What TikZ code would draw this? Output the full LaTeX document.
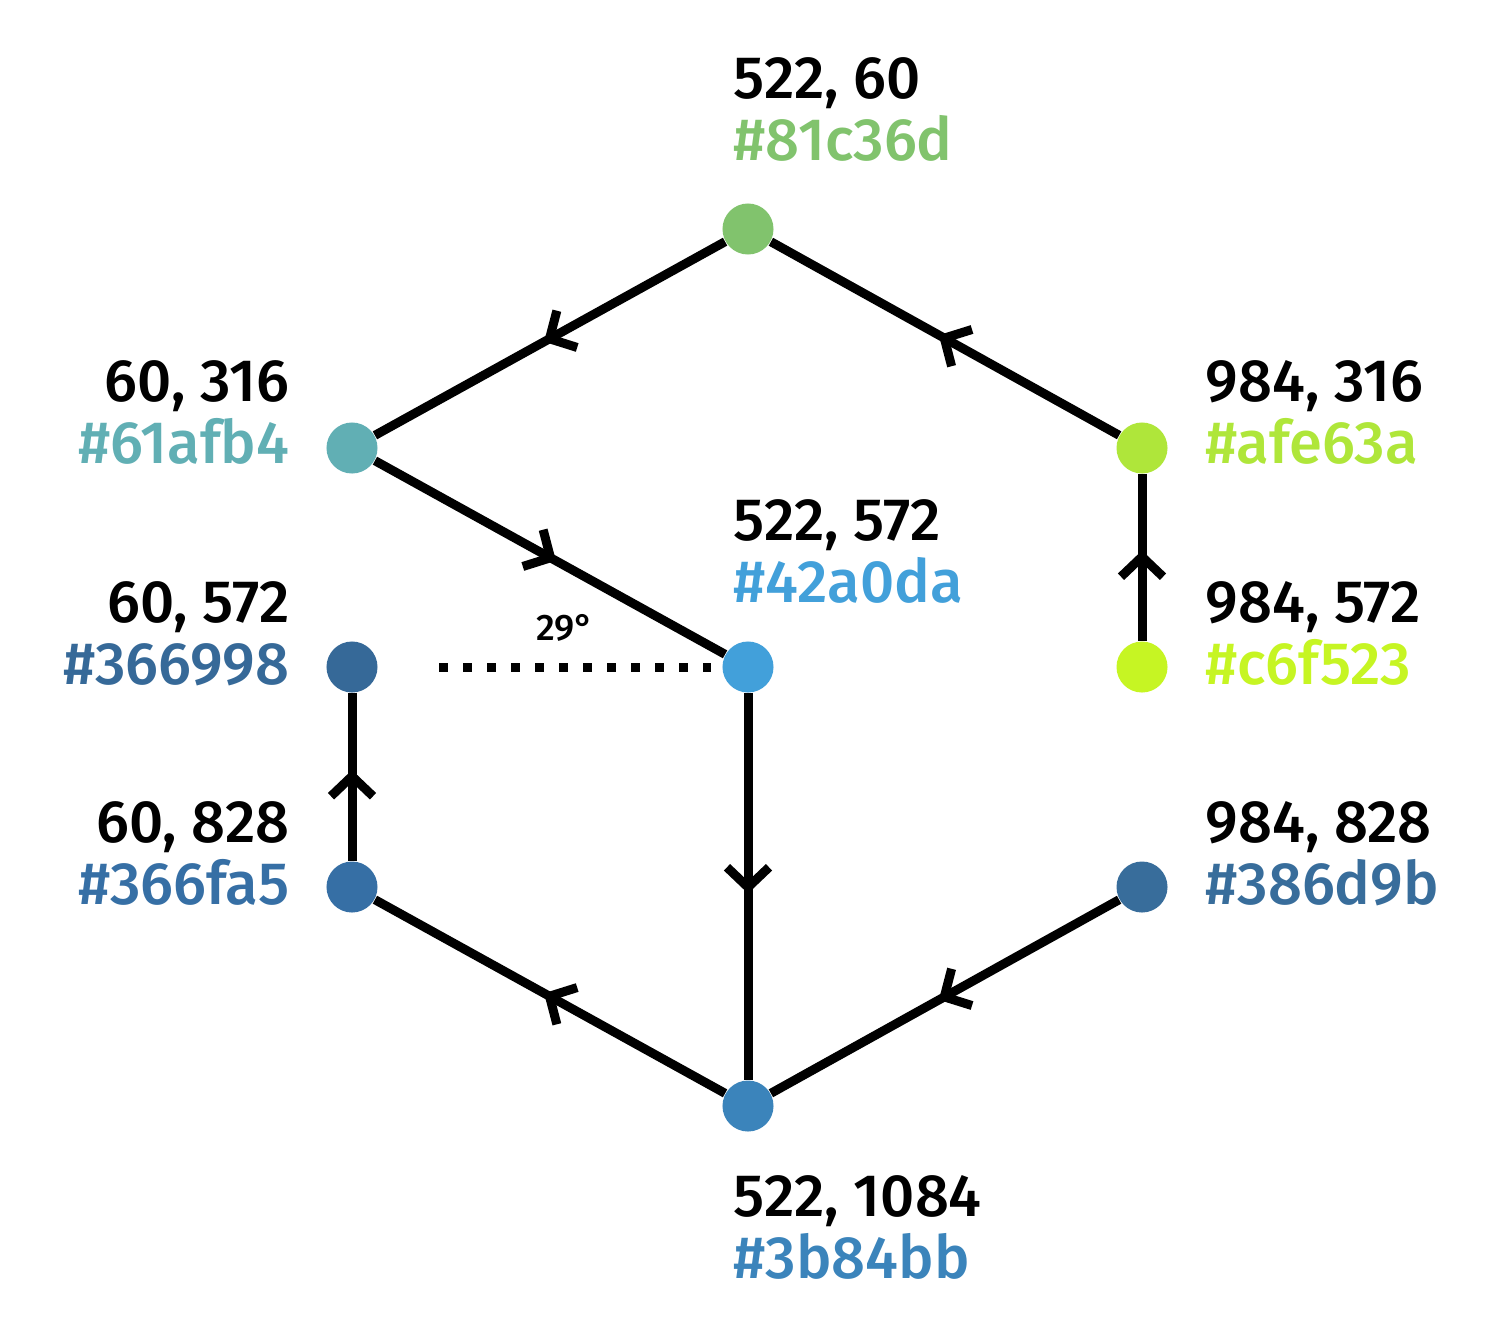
\documentclass[tikz,border=0pt]{standalone}
\usepackage{fontspec}
\setmainfont{Fira Sans}[UprightFont=* Medium]
\usetikzlibrary{arrows.meta,decorations.markings}

\definecolor{cTop}{HTML}{81C36D}
\definecolor{cLup}{HTML}{61AFB4}
\definecolor{cRup}{HTML}{AFE63A}
\definecolor{cMid}{HTML}{42A0DA}
\definecolor{cLmid}{HTML}{366998}
\definecolor{cRmid}{HTML}{C6F523}
\definecolor{cLlow}{HTML}{366FA5}
\definecolor{cRlow}{HTML}{386D9B}
\definecolor{cBot}{HTML}{3B84BB}

\tikzset{
  dot/.style={circle,inner sep=0pt,minimum size=0.51cm,fill=#1},
  link/.style={line width=0.09cm,postaction={decorate},
    decoration={markings,mark=at position 0.5 with
      {\pgftransformxshift{0.07cm}\arrow{Straight Barb[length=0.2cm,width=0.42cm]}}}},
  dotline/.style={line width=0.09cm,dash pattern=on 0.09cm off 0.15cm,
    shorten <=0.61cm,shorten >=0.11cm},
  lbl/.style={inner sep=0pt,font=\fontsize{17}{17.4}\selectfont},
  lblr/.style={lbl,align=left,anchor=base west},
  lbll/.style={lbl,align=right,anchor=base east}
}

\begin{document}
\begin{tikzpicture}[x=0.01cm,y=-0.01cm]
\useasboundingbox (0,0) rectangle (1500,1342);

\node[dot=cTop] (top) at (748,229) {};
\node[dot=cLup] (lup) at (352,448) {};
\node[dot=cRup] (rup) at (1142,448) {};
\node[dot=cMid] (mid) at (748,667) {};
\node[dot=cLmid] (lmid) at (352,667) {};
\node[dot=cRmid] (rmid) at (1142,667) {};
\node[dot=cLlow] (llow) at (352,887) {};
\node[dot=cRlow] (rlow) at (1142,887) {};
\node[dot=cBot] (bot) at (748,1106) {};

\node[lblr] (toplbl) at (733,160) {522, 60\\\textcolor{cTop}{\#81c36d}};
\node[lbll] (luplbl) at (290,463) {60, 316\\\textcolor{cLup}{\#61afb4}};
\node[lblr] (ruplbl) at (1205,463) {984, 316\\\textcolor{cRup}{\#afe63a}};
\node[lblr] (midlbl) at (733,602) {522, 572\\\textcolor{cMid}{\#42a0da}};
\node[lbll] (lmidlbl) at (290,684) {60, 572\\\textcolor{cLmid}{\#366998}};
\node[lblr] (rmidlbl) at (1205,684) {984, 572\\\textcolor{cRmid}{\#c6f523}};
\node[lbll] (llowlbl) at (290,904) {60, 828\\\textcolor{cLlow}{\#366fa5}};
\node[lblr] (rlowlbl) at (1205,904) {984, 828\\\textcolor{cRlow}{\#386d9b}};
\node[lblr] (botlbl) at (733,1278) {522, 1084\\\textcolor{cBot}{\#3b84bb}};

\node[inner sep=0pt,anchor=base,font=\fontsize{10.5}{12}\selectfont] (angle) at (565,640) {29°};

\draw[link] (top) -- (lup);
\draw[link] (rup) -- (top);
\draw[link] (lup) -- (mid);
\draw[link] (rmid) -- (rup);
\draw[link] (mid) -- (bot);
\draw[link] (bot) -- (llow);
\draw[link] (rlow) -- (bot);
\draw[link] (llow) -- (lmid);
\draw[dotline] (lmid) -- (mid);
\end{tikzpicture}
\end{document}
